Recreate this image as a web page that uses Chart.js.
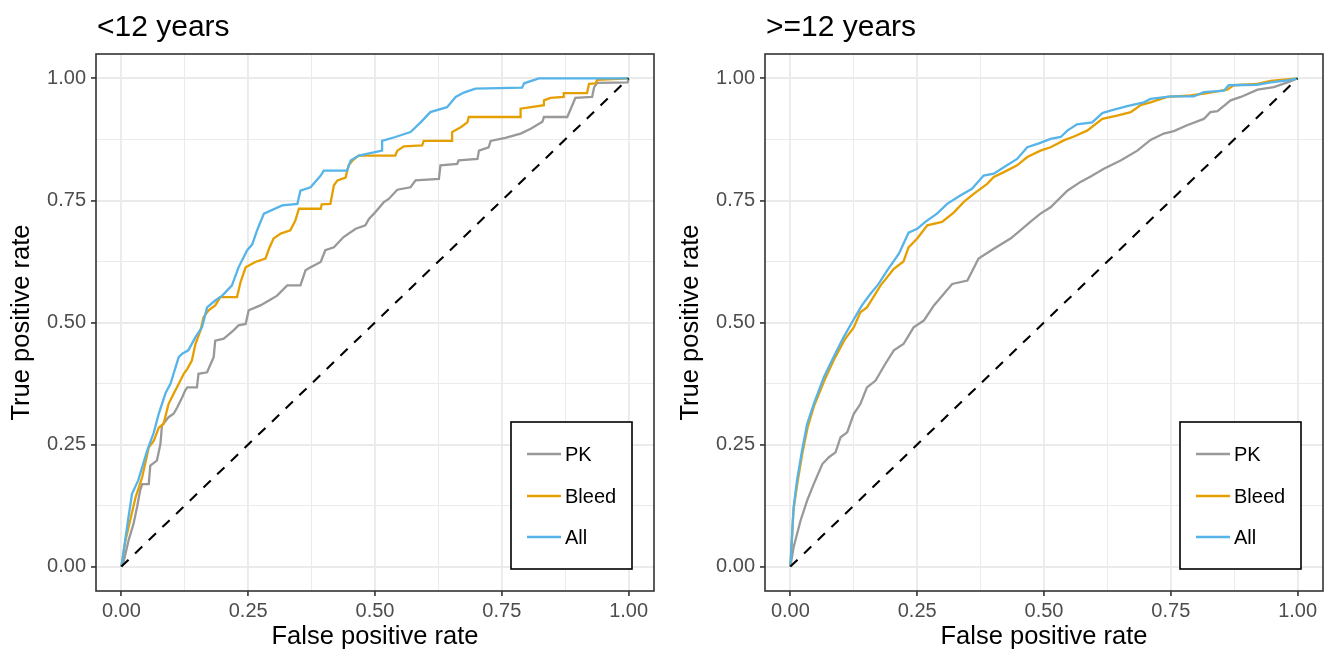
<!DOCTYPE html>
<html><head><meta charset="utf-8">
<script src="https://cdn.jsdelivr.net/npm/chart.js@4"></script>
<style>
html,body{margin:0;padding:0;background:#fff;overflow:hidden;width:1324px;height:653px}
canvas{position:absolute;top:0}
#c1{left:0}
#c2{left:669px}
</style></head><body>
<canvas id="c1" width="662" height="653"></canvas>
<canvas id="c2" width="655" height="653"></canvas>
<script>
// ---- data (fpr, tpr) ----
const panelTitles = ['<12 years', '>=12 years'];
const seriesNames = ['PK', 'Bleed', 'All'];
const seriesColors = ['#999999', '#E69F00', '#56B4E9'];
const tickValues = [0, 0.25, 0.5, 0.75, 1];
const tickLabels = ['0.00', '0.25', '0.50', '0.75', '1.00'];

const youngPK = [[0,0],[0.005,0.012],[0.014,0.053],[0.024,0.088],[0.031,0.122],[0.037,0.156],[0.041,0.169],[0.054,0.169],[0.057,0.207],[0.070,0.217],[0.077,0.251],[0.080,0.289],[0.093,0.306],[0.103,0.313],[0.110,0.326],[0.120,0.347],[0.126,0.361],[0.130,0.367],[0.149,0.367],[0.152,0.395],[0.169,0.398],[0.176,0.415],[0.182,0.429],[0.185,0.463],[0.202,0.467],[0.221,0.484],[0.231,0.494],[0.245,0.497],[0.251,0.525],[0.274,0.535],[0.291,0.545],[0.307,0.555],[0.327,0.576],[0.353,0.576],[0.363,0.607],[0.373,0.613],[0.393,0.624],[0.402,0.648],[0.419,0.654],[0.438,0.675],[0.462,0.692],[0.481,0.699],[0.488,0.712],[0.498,0.723],[0.517,0.746],[0.527,0.753],[0.544,0.772],[0.570,0.777],[0.580,0.791],[0.626,0.794],[0.629,0.822],[0.662,0.825],[0.665,0.832],[0.702,0.835],[0.705,0.852],[0.724,0.859],[0.728,0.872],[0.757,0.878],[0.787,0.887],[0.807,0.897],[0.830,0.911],[0.833,0.921],[0.879,0.921],[0.886,0.938],[0.895,0.960],[0.928,0.962],[0.932,0.982],[0.938,0.991],[0.998,0.992],[1,1]];
const youngBleed = [[0,0],[0.008,0.053],[0.028,0.142],[0.041,0.183],[0.054,0.244],[0.064,0.258],[0.074,0.285],[0.083,0.292],[0.093,0.333],[0.103,0.354],[0.113,0.374],[0.123,0.395],[0.130,0.405],[0.139,0.422],[0.146,0.456],[0.156,0.484],[0.162,0.511],[0.172,0.525],[0.185,0.535],[0.195,0.552],[0.228,0.552],[0.235,0.583],[0.245,0.613],[0.264,0.624],[0.284,0.631],[0.291,0.651],[0.300,0.672],[0.314,0.682],[0.333,0.689],[0.343,0.709],[0.350,0.733],[0.393,0.733],[0.395,0.742],[0.412,0.743],[0.419,0.781],[0.426,0.791],[0.442,0.797],[0.448,0.822],[0.456,0.832],[0.468,0.842],[0.540,0.842],[0.544,0.852],[0.557,0.861],[0.593,0.863],[0.596,0.872],[0.652,0.872],[0.652,0.890],[0.669,0.900],[0.682,0.910],[0.685,0.921],[0.787,0.921],[0.787,0.938],[0.833,0.945],[0.833,0.955],[0.846,0.960],[0.872,0.962],[0.872,0.970],[0.918,0.970],[0.922,0.989],[0.935,0.990],[0.938,0.997],[1,1]];
const youngAll = [[0,0],[0.014,0.101],[0.021,0.149],[0.033,0.176],[0.051,0.238],[0.064,0.275],[0.074,0.314],[0.087,0.355],[0.097,0.375],[0.113,0.429],[0.120,0.436],[0.132,0.443],[0.146,0.470],[0.159,0.490],[0.169,0.531],[0.185,0.545],[0.199,0.555],[0.218,0.576],[0.231,0.613],[0.248,0.648],[0.258,0.660],[0.268,0.690],[0.281,0.723],[0.317,0.740],[0.347,0.743],[0.353,0.770],[0.373,0.777],[0.393,0.801],[0.399,0.811],[0.445,0.811],[0.452,0.832],[0.468,0.842],[0.514,0.852],[0.514,0.872],[0.540,0.880],[0.570,0.890],[0.590,0.910],[0.609,0.931],[0.642,0.941],[0.659,0.962],[0.675,0.971],[0.698,0.979],[0.790,0.981],[0.794,0.990],[0.823,1.0],[1,1]];

const olderPK = [[0,0],[0.0065,0.040],[0.020,0.094],[0.033,0.135],[0.046,0.169],[0.063,0.210],[0.076,0.224],[0.089,0.234],[0.099,0.265],[0.112,0.275],[0.125,0.313],[0.138,0.333],[0.151,0.367],[0.168,0.381],[0.187,0.415],[0.204,0.443],[0.223,0.456],[0.243,0.490],[0.263,0.504],[0.283,0.535],[0.319,0.579],[0.349,0.586],[0.371,0.631],[0.401,0.651],[0.434,0.672],[0.454,0.689],[0.473,0.706],[0.493,0.723],[0.513,0.736],[0.546,0.770],[0.572,0.788],[0.592,0.799],[0.618,0.815],[0.651,0.832],[0.684,0.852],[0.710,0.874],[0.736,0.887],[0.756,0.892],[0.782,0.904],[0.815,0.917],[0.828,0.931],[0.842,0.933],[0.868,0.955],[0.888,0.962],[0.921,0.977],[0.953,0.982],[0.980,0.992],[1,1]];
const olderBleed = [[0,0],[0.006,0.115],[0.014,0.172],[0.024,0.234],[0.034,0.285],[0.047,0.330],[0.067,0.381],[0.087,0.426],[0.107,0.465],[0.125,0.490],[0.138,0.521],[0.151,0.531],[0.178,0.576],[0.204,0.610],[0.223,0.625],[0.233,0.654],[0.250,0.672],[0.270,0.699],[0.299,0.706],[0.322,0.725],[0.342,0.747],[0.362,0.764],[0.388,0.784],[0.401,0.798],[0.421,0.808],[0.447,0.822],[0.467,0.839],[0.493,0.852],[0.513,0.859],[0.539,0.873],[0.559,0.881],[0.585,0.893],[0.615,0.917],[0.644,0.924],[0.671,0.931],[0.690,0.945],[0.710,0.951],[0.743,0.962],[0.789,0.965],[0.822,0.970],[0.861,0.977],[0.874,0.986],[0.920,0.989],[0.947,0.995],[1,1]];
const olderAll = [[0,0],[0.0065,0.122],[0.013,0.176],[0.023,0.238],[0.033,0.292],[0.046,0.333],[0.066,0.388],[0.085,0.429],[0.105,0.470],[0.122,0.501],[0.141,0.535],[0.158,0.559],[0.174,0.579],[0.191,0.607],[0.214,0.641],[0.233,0.684],[0.250,0.692],[0.266,0.706],[0.289,0.723],[0.309,0.743],[0.335,0.760],[0.358,0.774],[0.381,0.801],[0.401,0.805],[0.427,0.822],[0.447,0.835],[0.467,0.859],[0.490,0.867],[0.513,0.876],[0.533,0.880],[0.546,0.893],[0.565,0.906],[0.595,0.910],[0.615,0.929],[0.631,0.934],[0.664,0.943],[0.697,0.951],[0.710,0.958],[0.750,0.963],[0.795,0.963],[0.815,0.972],[0.855,0.975],[0.864,0.986],[0.920,0.987],[0.947,0.992],[0.980,0.996],[1,1]];
const chanceLine = [[0,0],[1,1]];

// ---- drawing ----
Chart.defaults.font.family = '"Liberation Sans", Arial, sans-serif';
const isMajor = v => Math.abs(v * 4 - Math.round(v * 4)) < 1e-6;
const gridTicks = [0, 0.125, 0.25, 0.375, 0.5, 0.625, 0.75, 0.875, 1];

const panelPlugin = {
  id: 'panel',
  afterDatasetsDraw(chart, args, opts) {
    const {ctx, chartArea: a} = chart;
    ctx.save();
    const w = 121, h = 147;
    const bx = a.right - 22 - w, by = a.bottom - 22 - h;
    ctx.fillStyle = '#ffffff';
    ctx.fillRect(bx, by, w, h);
    ctx.lineWidth = 1.6; ctx.strokeStyle = '#000';
    ctx.strokeRect(bx, by, w, h);
    const rows = [32, 74, 115];
    ctx.font = '20px "Liberation Sans", Arial, sans-serif';
    ctx.textBaseline = 'middle'; ctx.textAlign = 'left';
    seriesNames.forEach((n, i) => {
      ctx.strokeStyle = seriesColors[i]; ctx.lineWidth = 2.4;
      ctx.beginPath(); ctx.moveTo(bx + 16, by + rows[i]); ctx.lineTo(bx + 50, by + rows[i]); ctx.stroke();
      ctx.fillStyle = '#000';
      ctx.fillText(n, bx + 54, by + rows[i] + 1);
    });
    ctx.strokeStyle = '#333333'; ctx.lineWidth = 1.6;
    ctx.strokeRect(a.left, a.top, a.right - a.left, a.bottom - a.top);
    ctx.fillStyle = '#000'; ctx.textBaseline = 'alphabetic';
    ctx.font = '30px "Liberation Sans", Arial, sans-serif';
    ctx.fillText(opts.title, a.left + 1, 36);
    ctx.restore();
  }
};

function axis(titleText, isX) {
  return {
    type: 'linear', min: -0.05, max: 1.05,
    afterBuildTicks: s => { s.ticks = gridTicks.map(v => ({value: v})); },
    afterFit: s => { if (isX) s.height = 62; else s.width = 96; },
    grid: {
      color: '#ebebeb',
      lineWidth: c => (c.tick && isMajor(c.tick.value)) ? 1.9 : 1,
      tickColor: c => (c.tick && isMajor(c.tick.value)) ? '#333333' : 'rgba(0,0,0,0)',
      tickLength: 5, tickWidth: 1.6, drawTicks: true
    },
    border: {display: false},
    ticks: {
      autoSkip: false, maxRotation: 0, minRotation: 0,
      padding: isX ? 3 : 5,
      color: '#4d4d4d', font: {size: 20},
      callback: v => { const i = tickValues.findIndex(t => Math.abs(t - v) < 1e-6); return i >= 0 ? tickLabels[i] : ''; }
    },
    title: {
      display: true, text: titleText, color: '#000', font: {size: 25.5},
      padding: isX ? {top: 0, bottom: 1} : {top: 7, bottom: 0}
    }
  };
}

function makeChart(id, title, series, padRight) {
  const pts = arr => arr.map(p => ({x: p[0], y: p[1]}));
  const ds = series.map((s, i) => ({
    label: seriesNames[i], data: pts(s), borderColor: seriesColors[i],
    borderWidth: 2.3, pointRadius: 0, showLine: true, tension: 0, order: 3 - i
  }));
  ds.push({label: 'chance', data: pts(chanceLine), borderColor: '#000', borderWidth: 2.1,
    borderDash: [10, 9], pointRadius: 0, showLine: true, order: 0});
  new Chart(document.getElementById(id), {
    type: 'scatter',
    data: {datasets: ds},
    options: {
      responsive: false, animation: false, devicePixelRatio: 1,
      layout: {padding: {left: 0, top: 54, right: padRight, bottom: 0}},
      plugins: {legend: {display: false}, tooltip: {enabled: false}, title: {display: false}, panel: {title}},
      scales: {x: axis('False positive rate', true), y: axis('True positive rate', false)}
    },
    plugins: [panelPlugin]
  });
}

makeChart('c1', panelTitles[0], [youngPK, youngBleed, youngAll], 8);
makeChart('c2', panelTitles[1], [olderPK, olderBleed, olderAll], 1);
</script>
</body></html>
